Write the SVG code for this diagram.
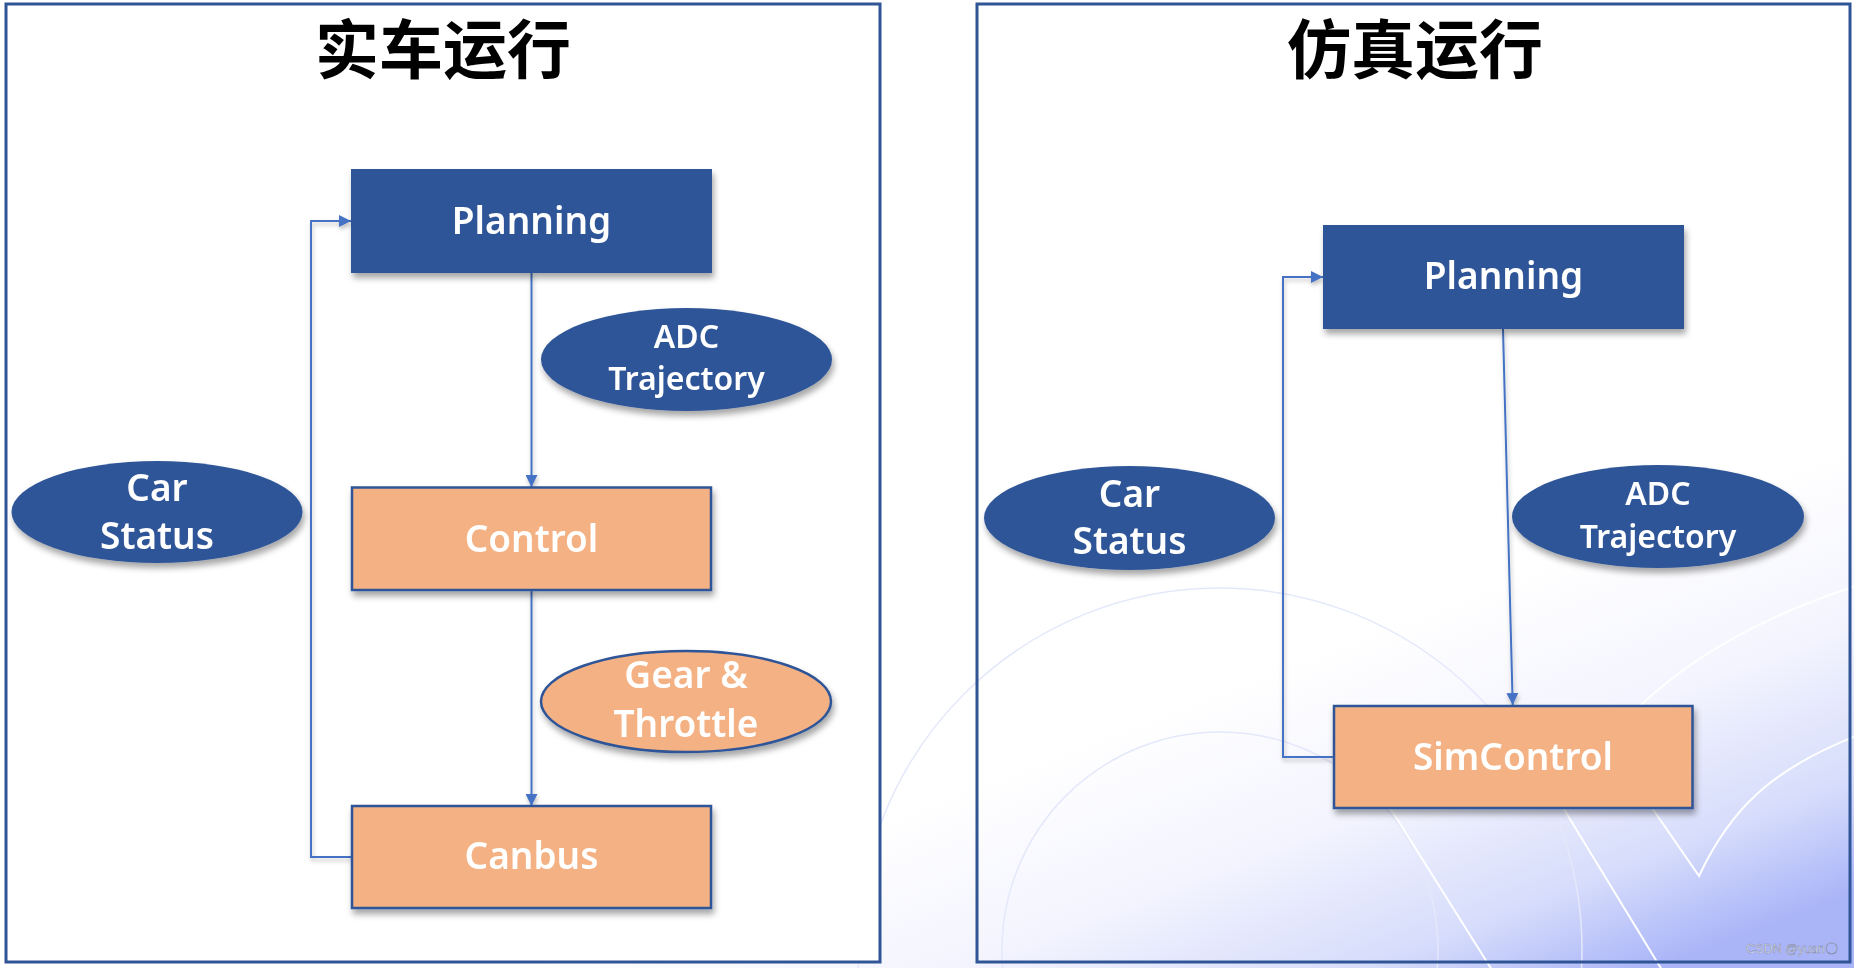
<svg xmlns="http://www.w3.org/2000/svg" width="1854" height="968" viewBox="0 0 1854 968">
  <defs>
    <linearGradient id="bg" gradientUnits="userSpaceOnUse" x1="1450" y1="600" x2="1600" y2="990">
      <stop offset="0" stop-color="#ffffff"/>
      <stop offset="0.4" stop-color="#f3f4fe"/>
      <stop offset="0.75" stop-color="#d6dcfb"/>
      <stop offset="1" stop-color="#aab5f8"/>
    </linearGradient>
    <filter id="shadow" x="-20%" y="-20%" width="140%" height="160%">
      <feDropShadow dx="2" dy="5" stdDeviation="3" flood-color="#000000" flood-opacity="0.35"/>
    </filter>
    <filter id="lshadow" x="-20%" y="-20%" width="140%" height="140%">
      <feDropShadow dx="1" dy="3" stdDeviation="2" flood-color="#000000" flood-opacity="0.25"/>
    </filter>
    <marker id="arrow" viewBox="0 0 12 12" refX="12" refY="6" markerWidth="12" markerHeight="12" markerUnits="userSpaceOnUse" orient="auto">
      <path d="M0,0 L12,6 L0,12 Z" fill="#4472C4"/>
    </marker>
  </defs>
  <style>
    .frame { fill: none; stroke: #2F5597; stroke-width: 3; }
    .title { font-family: "Noto Sans CJK SC", "Noto Sans", sans-serif; font-size: 64px; font-weight: 700; fill: #000000; text-anchor: middle; }
    .blue { fill: #2F5597; }
    .orange { fill: #F4B183; stroke: #2F5597; stroke-width: 2.5; }
    .lbl { font-family: "Noto Sans", "Open Sans", sans-serif; font-weight: 600; fill: #ffffff; text-anchor: middle; font-size: 37px; }
    .lbls { font-size: 32px; }
    .conn { fill: none; stroke: #4472C4; stroke-width: 2; }
    .deco { fill: none; stroke: #e4e8fb; stroke-width: 1.5; }
    .decow { fill: none; stroke: #ffffff; stroke-width: 2; }
    .wm { font-family: "Liberation Sans", Arial, sans-serif; font-size: 12.5px; fill: #f7f8ff; stroke: #7f87a8; stroke-width: 0.5; }
  </style>

  <!-- background -->
  <rect x="0" y="0" width="1854" height="968" fill="url(#bg)"/>
  <g id="decoration">
    <circle cx="1220" cy="950" r="362" class="deco"/>
    <circle cx="1220" cy="950" r="218" class="deco"/>
    <path d="M1360,760 L1492,970" class="decow"/>
    <path d="M1540,770 L1662,970" class="decow"/>
    <path d="M1856,586 Q1720,630 1641,705 Q1610,740 1650,805 L1699,876 C1730,810 1770,770 1856,736" class="decow"/>
  </g>

  <!-- panels -->
  <g id="panel-real">
    <rect x="6" y="4" width="874" height="958" fill="#ffffff"/>
    <rect x="6" y="4" width="874" height="958" class="frame"/>
    <text x="443" y="73" class="title">实车运行</text>
  </g>
  <g id="panel-sim">
    <rect x="977" y="4" width="873" height="958" class="frame"/>
    <text x="1415" y="73" class="title">仿真运行</text>
  </g>

  <!-- connectors -->
  <g id="connectors" filter="url(#lshadow)">
    <path d="M531.5,273 L531.5,487" class="conn" marker-end="url(#arrow)"/>
    <path d="M531.5,590 L531.5,806" class="conn" marker-end="url(#arrow)"/>
    <path d="M352,857 L311,857 L311,221 L351,221" class="conn" marker-end="url(#arrow)"/>
    <path d="M1503,329 L1512.7,705" class="conn" marker-end="url(#arrow)"/>
    <path d="M1334,757 L1283,757 L1283,277 L1323,277" class="conn" marker-end="url(#arrow)"/>
  </g>

  <!-- left nodes -->
  <g id="planning-real" filter="url(#shadow)">
    <rect x="351" y="169" width="361" height="104" class="blue"/>
    <text x="531.5" y="234" class="lbl">Planning</text>
  </g>
  <g id="control" filter="url(#shadow)">
    <rect x="352" y="487.5" width="359" height="102.5" class="orange"/>
    <text x="531.5" y="552" class="lbl">Control</text>
  </g>
  <g id="canbus" filter="url(#shadow)">
    <rect x="352" y="806" width="359" height="102" class="orange"/>
    <text x="531.5" y="869" class="lbl">Canbus</text>
  </g>
  <g id="adc-trajectory-real" filter="url(#shadow)">
    <ellipse cx="686.5" cy="359.5" rx="145.5" ry="51.5" class="blue"/>
    <text x="686.5" y="348" class="lbl lbls">ADC</text>
    <text x="686.5" y="390" class="lbl lbls">Trajectory</text>
  </g>
  <g id="gear-throttle" filter="url(#shadow)">
    <ellipse cx="686" cy="701.5" rx="145" ry="50.5" class="orange"/>
    <text x="686" y="688" class="lbl">Gear &amp;</text>
    <text x="686" y="737" class="lbl">Throttle</text>
  </g>
  <g id="car-status-real" filter="url(#shadow)">
    <ellipse cx="157" cy="512" rx="145.5" ry="51" class="blue"/>
    <text x="157" y="501" class="lbl">Car</text>
    <text x="157" y="549" class="lbl">Status</text>
  </g>

  <!-- right nodes -->
  <g id="planning-sim" filter="url(#shadow)">
    <rect x="1323" y="225" width="361" height="104" class="blue"/>
    <text x="1503.5" y="289" class="lbl">Planning</text>
  </g>
  <g id="simcontrol" filter="url(#shadow)">
    <rect x="1334" y="706" width="358.5" height="102" class="orange"/>
    <text x="1513" y="770" class="lbl">SimControl</text>
  </g>
  <g id="car-status-sim" filter="url(#shadow)">
    <ellipse cx="1129.5" cy="518" rx="145.5" ry="52" class="blue"/>
    <text x="1129.5" y="507" class="lbl">Car</text>
    <text x="1129.5" y="554" class="lbl">Status</text>
  </g>
  <g id="adc-trajectory-sim" filter="url(#shadow)">
    <ellipse cx="1658" cy="516.5" rx="146" ry="51.5" class="blue"/>
    <text x="1658" y="505" class="lbl lbls">ADC</text>
    <text x="1658" y="548" class="lbl lbls">Trajectory</text>
  </g>

  <text x="1838" y="953" class="wm" text-anchor="end">CSDN @yuan〇</text>
</svg>
